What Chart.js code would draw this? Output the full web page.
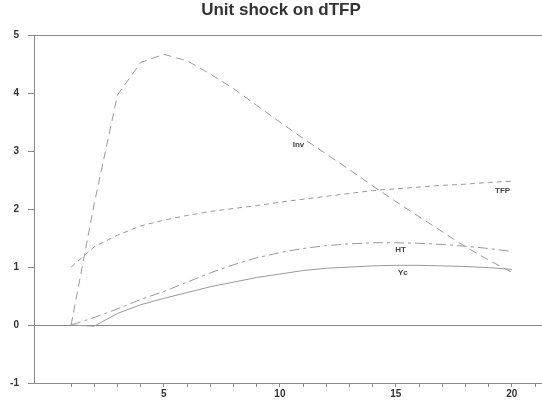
<!DOCTYPE html>
<html lang="en-US">
    <head>
        <title>Unit shock on dTFP</title>
        <script src="https://cdn.jsdelivr.net/npm/chart.js@4/dist/chart.umd.min.js"></script>
        <style>
            body{
                margin: 0;
                background-color: white;
                overflow: hidden;
            }
        </style>
    </head>
    <body>
        <canvas id="chart-0" width="542" height="402"></canvas>

        <script>
            // horizon 1..20
            var periods = [1,2,3,4,5,6,7,8,9,10,11,12,13,14,15,16,17,18,19,20];
            var inv = [0, 2.10, 3.97, 4.53, 4.67, 4.56, 4.33, 4.08, 3.79, 3.50, 3.22, 2.95, 2.68, 2.40, 2.13, 1.87, 1.61, 1.35, 1.12, 0.91];
            var tfp = [1.00, 1.35, 1.55, 1.71, 1.81, 1.89, 1.96, 2.01, 2.06, 2.12, 2.17, 2.22, 2.27, 2.32, 2.35, 2.38, 2.41, 2.43, 2.46, 2.48];
            var ht  = [0, 0.13, 0.28, 0.44, 0.58, 0.74, 0.90, 1.04, 1.16, 1.25, 1.32, 1.37, 1.40, 1.42, 1.42, 1.41, 1.39, 1.36, 1.32, 1.27];
            var yc  = [0, -0.02, 0.20, 0.35, 0.46, 0.56, 0.66, 0.74, 0.82, 0.88, 0.94, 0.98, 1.00, 1.02, 1.03, 1.03, 1.02, 1.01, 0.99, 0.96];
            var seriesNames = ['Inv', 'TFP', 'HT', 'Yc'];
            var xTickLabels = [5, 10, 15, 20];
            var yTickValues = [-1, 0, 1, 2, 3, 4, 5];
            var titleText = 'Unit shock on dTFP';

            // where the series names sit, in data units
            var nameAt = {
                Inv: [10.8, 3.11],
                TFP: [19.6, 2.32],
                HT:  [15.2, 1.30],
                Yc:  [15.3, 0.90]
            };

            var lineGray = '#999';
            var frameGray = '#8a8a8a';
            var fontFam = '"Liberation Sans", Arial, sans-serif';

            function pts(vals)
            {
                var out = [];
                for (var i = 0; i < periods.length; i++) {
                    out.push({x: periods[i], y: vals[i]});
                }
                return out;
            }

            function series(name, vals, dash)
            {
                return {
                    label: name,
                    data: pts(vals),
                    borderColor: lineGray,
                    borderWidth: 1,
                    borderDash: dash,
                    pointRadius: 0,
                    tension: 0,
                    fill: false
                };
            }

            var textBits = {
                id: 'textBits',
                afterDatasetsDraw: function(chart) {
                    var ctx = chart.ctx;
                    var xs = chart.scales.x, ys = chart.scales.y;
                    ctx.save();
                    ctx.font = 'bold 8px ' + fontFam;
                    ctx.fillStyle = '#444';
                    ctx.textAlign = 'center';
                    ctx.textBaseline = 'middle';
                    seriesNames.forEach(function(n) {
                        var p = nameAt[n];
                        ctx.fillText(n, xs.getPixelForValue(p[0]), ys.getPixelForValue(p[1]));
                    });
                    // title, a bit right of the canvas centre like the original
                    ctx.font = 'bold 17px ' + fontFam;
                    ctx.fillStyle = '#333';
                    ctx.textBaseline = 'top';
                    ctx.fillText(titleText, 281, 2);
                    ctx.restore();
                }
            };

            var chart = new Chart('chart-0', {
                type: 'line',
                data: {
                    datasets: [
                        series('Inv', inv, [8, 5]),
                        series('TFP', tfp, [5, 4]),
                        series('HT', ht, [10, 4, 3, 4]),
                        series('Yc', yc, [])
                    ]
                },
                options: {
                    responsive: false,
                    animation: false,
                    layout: { padding: 0 },
                    plugins: {
                        legend: { display: false },
                        tooltip: { enabled: false },
                        // kept only to reserve the space on top; drawn by textBits
                        title: {
                            display: true,
                            text: titleText,
                            color: 'rgba(0,0,0,0)',
                            font: { family: fontFam, size: 16, weight: 'bold' },
                            padding: { top: 2, bottom: 14 }
                        }
                    },
                    scales: {
                        x: {
                            type: 'linear',
                            min: -0.6,
                            max: 21.3,
                            afterBuildTicks: function(scale) {
                                var t = [];
                                for (var v = 1; v <= 21; v++) t.push({value: v});
                                scale.ticks = t;
                            },
                            afterFit: function(scale) { scale.height = 19; },
                            border: { color: frameGray, width: 1 },
                            grid: { drawOnChartArea: false, tickLength: 4, color: frameGray, tickColor: frameGray },
                            ticks: {
                                autoSkip: false,
                                maxRotation: 0,
                                padding: 1,
                                color: '#333',
                                font: { family: fontFam, size: 10, weight: 'bold' },
                                callback: function(v) { return xTickLabels.indexOf(v) >= 0 ? String(v) : ''; }
                            }
                        },
                        y: {
                            min: -1,
                            max: 5,
                            afterBuildTicks: function(scale) {
                                scale.ticks = yTickValues.map(function(v) { return {value: v}; });
                            },
                            afterFit: function(scale) { scale.width = 34; },
                            border: { color: frameGray, width: 1 },
                            grid: {
                                tickLength: 6,
                                tickColor: frameGray,
                                color: function(c) {
                                    return (c.tick && (c.tick.value === 0 || c.tick.value === 5)) ? frameGray : 'rgba(0,0,0,0)';
                                }
                            },
                            ticks: {
                                padding: 9,
                                color: '#333',
                                font: { family: fontFam, size: 10, weight: 'bold' }
                            }
                        }
                    }
                },
                plugins: [textBits]
            });
        </script>
    </body>
</html>
